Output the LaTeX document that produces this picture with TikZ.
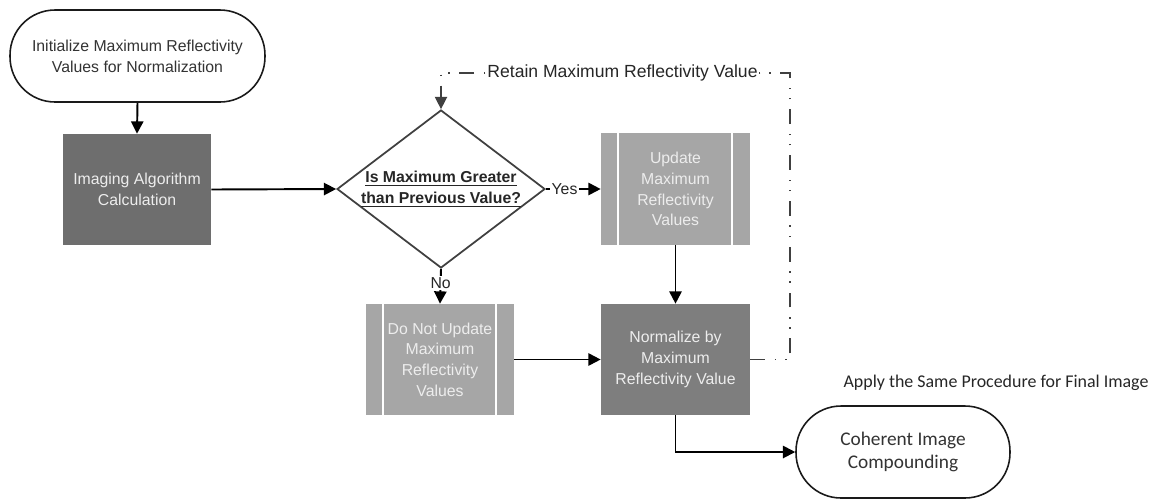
\documentclass[tikz,border=0pt]{standalone}
\usepackage{fontspec}
\setmainfont{Liberation Sans}
\newfontfamily\notefont{Carlito}
\usetikzlibrary{shapes.geometric,arrows.meta}
\definecolor{lineclr}{HTML}{1A1A1A}
\definecolor{darkfill}{HTML}{6E6E6E}
\definecolor{midfill}{HTML}{7E7E7E}
\definecolor{lightfill}{HTML}{A6A6A6}
\definecolor{boxtext}{HTML}{EDEDED}
\definecolor{loopclr}{HTML}{404040}
\tikzset{
  txt/.style={font=\fontsize{9}{11.8}\selectfont, align=center},
  terminal/.style={txt, draw=lineclr, line width=0.9pt, rounded corners=0.9cm, fill=white, text=black!80},
  procbox/.style={txt, fill=#1, text=boxtext, inner sep=2pt},
  subproc/.style={txt, fill=lightfill, text=boxtext, inner sep=2pt,
    append after command={
      ([xshift=0.34cm]\tikzlastnode.north west) edge[draw=white, line width=1.2pt] ([xshift=0.34cm]\tikzlastnode.south west)
      ([xshift=-0.36cm]\tikzlastnode.north east) edge[draw=white, line width=1.2pt] ([xshift=-0.36cm]\tikzlastnode.south east)
    }},
  decision/.style={shape=diamond, draw=loopclr, line width=1pt, inner sep=0pt,
    shape aspect=1.32, minimum width=4.16cm, minimum height=3.16cm, align=center,
    font=\fontsize{9}{12}\selectfont\bfseries, text=black!85},
  flow/.style={draw=black, line width=1.1pt, -{Triangle[length=7pt,width=7pt]}},
  loopline/.style={draw=loopclr, line width=0.8pt,
    dash pattern=on 8.5pt off 5.5pt on 0.8pt off 5pt on 0.8pt off 5.5pt},
  lbl/.style={fill=white, inner sep=1pt, font=\fontsize{9}{11}\selectfont, text=black!85}
}
\begin{document}
\begin{tikzpicture}[x=0.02cm,y=-0.02cm]
  \useasboundingbox (0,0) rectangle (1152,498);
  \clip (0,0) rectangle (1152,498);

  % nodes
  \node[terminal, minimum width=5.1cm, minimum height=1.84cm] (start) at (137.5,56)
    {Initialize Maximum Reflectivity\\Values for Normalization};
  \node[procbox=darkfill, minimum width=2.96cm, minimum height=2.22cm] (img) at (137,189.5)
    {Imaging Algorithm\\Calculation};
  \node[decision] (dia) at (441,189)
    {\underline{Is Maximum Greater}\\\underline{than Previous Value?}};
  \node[subproc, minimum width=2.98cm, minimum height=2.24cm] (upd) at (675.5,189)
    {Update\\Maximum\\Reflectivity\\Values};
  \node[subproc, minimum width=2.96cm, minimum height=2.22cm] (noupd) at (440,359.5)
    {Do Not Update\\Maximum\\Reflectivity\\Values};
  \node[procbox=midfill, minimum width=2.98cm, minimum height=2.22cm] (norm) at (675.5,359.5)
    {Normalize by\\Maximum\\Reflectivity Value};
  \node[terminal, minimum width=4.28cm, minimum height=1.84cm,
        font=\notefont\fontsize{11}{13.5}\selectfont] (coh) at (903,452)
    {Coherent Image\\Compounding};
  \node[font=\notefont\fontsize{10.2}{12}\selectfont, text=black!85] (note) at (996,383)
    {Apply the Same Procedure for Final Image};

  % loop-back corners
  \coordinate (loopR) at (790,73);
  \coordinate (loopL) at (441,73);

  % connectors
  \draw[flow] (start.south) -- (img.north);
  \draw[flow] (img.east) -- (dia.west);
  \draw[flow] (dia.east) -- node[lbl, pos=0.34] {Yes} (upd.west);
  \draw[flow] (dia.south) -- node[lbl, pos=0.4] {No} (noupd.north);
  \draw[flow] (upd.south) -- (norm.north);
  \draw[flow] (noupd.east) -- (norm.west);
  \draw[flow] (norm.south) |- (coh.west);
  \draw[loopline, -{Triangle[length=7pt,width=7pt]}]
    (norm.east) -| (loopR) -- node[lbl, pos=0.48, font=\fontsize{10}{12}\selectfont] {Retain Maximum Reflectivity Value} (loopL) -- (dia.north);
\end{tikzpicture}
\end{document}
